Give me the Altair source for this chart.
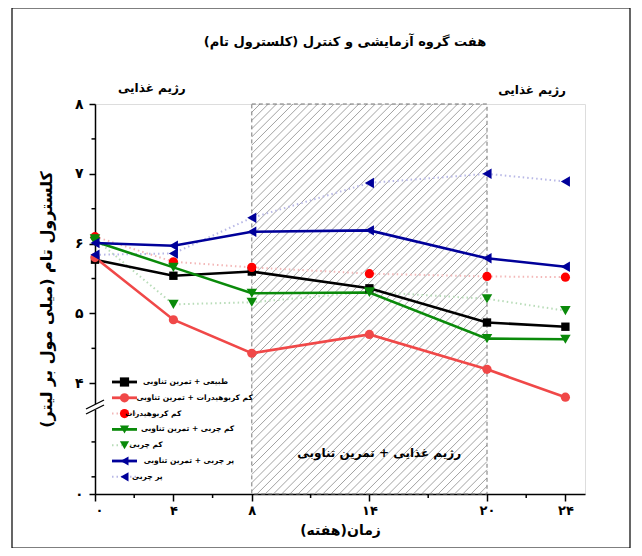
import altair as alt
import pandas as pd

# ---------------- data ----------------
weeks = [0, 4, 8, 14, 20, 24]

normal_ex = [5.77, 5.54, 5.60, 5.36, 4.87, 4.81]
lowcarb_ex = [5.80, 4.91, 4.43, 4.70, 4.20, 3.80]
lowcarb = [6.10, 5.74, 5.66, 5.57, 5.53, 5.52]
lowfat_ex = [6.03, 5.66, 5.29, 5.30, 4.64, 4.63]
lowfat = [6.07, 5.13, 5.16, 5.31, 5.21, 5.04]
highfat_ex = [6.01, 5.97, 6.17, 6.19, 5.79, 5.67]
highfat = [5.84, 5.86, 6.37, 6.87, 7.00, 6.89]

series_names = [
    "طبیعی + تمرین تناوبی",
    "کم کربوهیدرات + تمرین تناوبی",
    "کم کربوهیدرات",
    "کم چربی + تمرین تناوبی",
    "کم چربی",
    "پر چربی + تمرین تناوبی",
    "پر چربی",
]
series_values = [normal_ex, lowcarb_ex, lowcarb, lowfat_ex, lowfat, highfat_ex, highfat]
series_colors = ["#000000", "#f04848", "#ff0000", "#0a8a0a", "#0a8a0a", "#00009a", "#00009a"]
series_dotted = ["", "", "#f3b8b8", "", "#b8dcb8", "", "#b8b8e6"]
series_shapes = ["square", "circle", "circle", "triangle-down", "triangle-down", "triangle-left", "triangle-left"]
series_has_line = [True, True, False, True, False, True, False]

x_ticks = [0, 4, 8, 14, 20, 24]
x_tick_labels = ["۰", "۴", "۸", "۱۴", "۲۰", "۲۴"]
x_minor = [2, 6, 11, 17, 22]
y_bottom = 2.414
y_ticks = [y_bottom, 4, 5, 6, 7, 8]
y_tick_labels = ["۰", "۴", "۵", "۶", "۷", "۸"]
y_minor = [2.66, 3.16, 4.5, 5.5, 6.5, 7.5]

phase_start, phase_end = 8, 20

title_text = "هفت گروه آزمایشی و کنترل (کلسترول تام)"
y_title = "کلسترول تام (میلی مول بر لیتر)"
x_title = "زمان(هفته)"
annot_text = ["رژیم غذایی", "رژیم غذایی", "رژیم غذایی + تمرین تناوبی"]
annot_x = [2.9, 22.3, 14.5]
annot_y = [8.23, 8.2, 3.0]

FONT = "DejaVu Sans"
W, H = 490, 390
X_DOMAIN = [0, 25]

# ---------------- tables ----------------
rows = []
for name, vals in zip(series_names, series_values):
    for w, v in zip(weeks, vals):
        rows.append({"series": name, "week": w, "value": v})
df = pd.DataFrame(rows)

legend_df = pd.DataFrame({
    "series": series_names,
    "idx": list(range(len(series_names))),
    "col": series_colors,
    "dcol": [d if d else c for d, c in zip(series_dotted, series_colors)],
    "shape": series_shapes,
    "line": series_has_line,
})

xs = alt.Scale(domain=X_DOMAIN, nice=False, zero=False)
ys = alt.Scale(domain=[y_bottom, 8], nice=False, zero=False)

xlabel_expr = " : ".join(
    [f"datum.value == {v} ? '{l}'" for v, l in zip(x_ticks, x_tick_labels)]) + " : ''"
ylabel_expr = "datum.value < 3 ? '۰' : " + " : ".join(
    [f"datum.value == {v} ? '{l}'" for v, l in zip(y_ticks[1:], y_tick_labels[1:])]) + " : ''"

X = alt.X("week:Q", scale=xs, axis=alt.Axis(
    values=x_ticks, labelExpr=xlabel_expr, title=x_title, grid=False,
    tickSize=7, tickColor="black", domainColor="black", domainWidth=1.5, tickWidth=1.5,
    labelFont=FONT, labelFontSize=13, labelFontWeight="bold", labelColor="black", labelPadding=3,
    titleFont=FONT, titleFontSize=14, titleFontWeight="bold", titleColor="black", titlePadding=6))
Y = alt.Y("value:Q", scale=ys, axis=alt.Axis(
    values=y_ticks, labelExpr=ylabel_expr, title=y_title, grid=False,
    tickSize=6, tickColor="black", domainColor="black", domainWidth=1.5, tickWidth=1.5,
    labelFont=FONT, labelFontSize=14, labelFontWeight="bold", labelColor="black", labelPadding=6,
    titleFont=FONT, titleFontSize=16, titleFontWeight="bold", titleColor="black", titlePadding=20))

base = alt.Chart(df)

# outer frame
frame = alt.Chart(pd.DataFrame({"a": [0]})).mark_rect(
    fill=None, stroke="black", strokeWidth=1.2).encode(
    x=alt.value(-83), x2=alt.value(535), y=alt.value(-96), y2=alt.value(444))

# hatch
L = H / (W / (X_DOMAIN[1] - X_DOMAIN[0]))  # 45 degree line length in x-units
step = 0.42
hatch = alt.Chart(alt.sequence(0, 90, as_="k")).transform_calculate(
    a=f"{phase_start} - {L} + datum.k * {step}"
).transform_calculate(
    xs=f"max(datum.a, {phase_start})", xe=f"min(datum.a + {L}, {phase_end})"
).transform_filter("datum.xe > datum.xs").transform_calculate(
    ys=f"{y_bottom} + (datum.xs - datum.a) / {L} * (8 - {y_bottom})",
    ye=f"{y_bottom} + (datum.xe - datum.a) / {L} * (8 - {y_bottom})",
).mark_rule(color="#8a8a8a", strokeWidth=0.8).encode(
    x=alt.X("xs:Q", scale=xs), x2="xe:Q",
    y=alt.Y("ys:Q", scale=ys), y2="ye:Q")

hatch_border = alt.Chart(pd.DataFrame({"x1": [phase_start], "x2": [phase_end],
                                       "y1": [y_bottom], "y2": [8]})).mark_rect(
    fill=None, stroke="#777777", strokeDash=[4, 3], strokeWidth=1).encode(
    x=alt.X("x1:Q", scale=xs), x2="x2:Q", y=alt.Y("y1:Q", scale=ys), y2="y2:Q")

layers = [frame, hatch, hatch_border]

# dotted faint lines for diet-only groups
for name, dc, hl in zip(series_names, series_dotted, series_has_line):
    if not hl:
        layers.append(base.transform_filter(alt.datum.series == name).mark_line(
            color=dc, strokeDash=[1.5, 3], strokeWidth=2).encode(x=X, y=Y))
# solid lines
for name, col, hl in zip(series_names, series_colors, series_has_line):
    if hl:
        layers.append(base.transform_filter(alt.datum.series == name).mark_line(
            color=col, strokeWidth=2.6).encode(x=X, y=Y))
# markers
for name, col, sh in zip(series_names, series_colors, series_shapes):
    size = 70 if sh == "square" else (85 if sh == "circle" else 110)
    layers.append(base.transform_filter(alt.datum.series == name).mark_point(
        filled=True, opacity=1, color=col, shape=sh, size=size).encode(x=X, y=Y))

# minor ticks
layers.append(alt.Chart(pd.DataFrame({"v": y_minor})).mark_rule(
    color="black", strokeWidth=1.5).encode(
    y=alt.Y("v:Q", scale=ys), x=alt.value(-3.5), x2=alt.value(0)))
layers.append(alt.Chart(pd.DataFrame({"v": x_minor})).mark_rule(
    color="black", strokeWidth=1.5).encode(
    x=alt.X("v:Q", scale=xs), y=alt.value(H), y2=alt.value(H + 4)))

# axis break
layers.append(alt.Chart(pd.DataFrame({"a": [0]})).mark_rect(color="white").encode(
    x=alt.value(-3), x2=alt.value(3), y=alt.value(300), y2=alt.value(306)))
for off in (0, 5):
    layers.append(alt.Chart(pd.DataFrame({"a": [0]})).mark_rule(
        color="black", strokeWidth=1.3).encode(
        x=alt.value(-9), x2=alt.value(9), y=alt.value(305 + off), y2=alt.value(296 + off)))

# annotations
ann = pd.DataFrame({"t": annot_text, "x": annot_x, "y": annot_y})
layers.append(alt.Chart(ann).mark_text(font=FONT, fontSize=12, fontWeight="bold",
                                       color="black").encode(
    x=alt.X("x:Q", scale=xs), y=alt.Y("y:Q", scale=ys), text="t:N"))

# title
layers.append(alt.Chart(pd.DataFrame({"t": [title_text]})).mark_text(
    font=FONT, fontSize=13, fontWeight="bold", color="black").encode(
    x=alt.value(250), y=alt.value(-62), text="t:N"))

# ---- manual legend (inside plot, bottom-left) ----
LEG_TOP, LEG_STEP = 278, 15.8
LEG_FS = 7.5
leg = alt.Chart(legend_df).transform_calculate(
    py=f"{LEG_TOP} + datum.idx * {LEG_STEP}",
    # right-aligned RTL labels; right edge placed so each label starts just after its symbol
    px="46 + length(datum.series) * 3.1 + (indexof(datum.series, '+') >= 0 ? 25 : 0)",
)
PY = alt.Y("py:Q", scale=None, axis=None)
layers.append(leg.transform_filter("datum.line").mark_rule(strokeWidth=2.8).encode(
    x=alt.value(17), x2=alt.value(42), y=PY, color=alt.Color("col:N", scale=None, legend=None)))
layers.append(leg.transform_filter("!datum.line").mark_rule(strokeWidth=2, strokeDash=[1.5, 3]).encode(
    x=alt.value(17), x2=alt.value(42), y=PY, color=alt.Color("dcol:N", scale=None, legend=None)))
layers.append(leg.mark_point(filled=True, opacity=1, size=85).encode(
    x=alt.value(29.5), y=PY,
    color=alt.Color("col:N", scale=None, legend=None),
    shape=alt.Shape("shape:N", scale=None, legend=None)))
layers.append(leg.mark_text(align="right", dir="rtl", baseline="middle", font=FONT, fontSize=LEG_FS,
                            fontWeight="bold", color="black").encode(
    x=alt.X("px:Q", scale=None, axis=None), y=PY, text="series:N"))

chart = alt.layer(*layers).properties(
    width=W, height=H,
    autosize=alt.AutoSizeParams(type="none"),
    padding={"left": 87, "top": 96, "right": 49, "bottom": 54},
).configure_view(stroke=None).configure(background="white")

chart.save("out.html", embed_options={"renderer": "svg", "actions": False})
